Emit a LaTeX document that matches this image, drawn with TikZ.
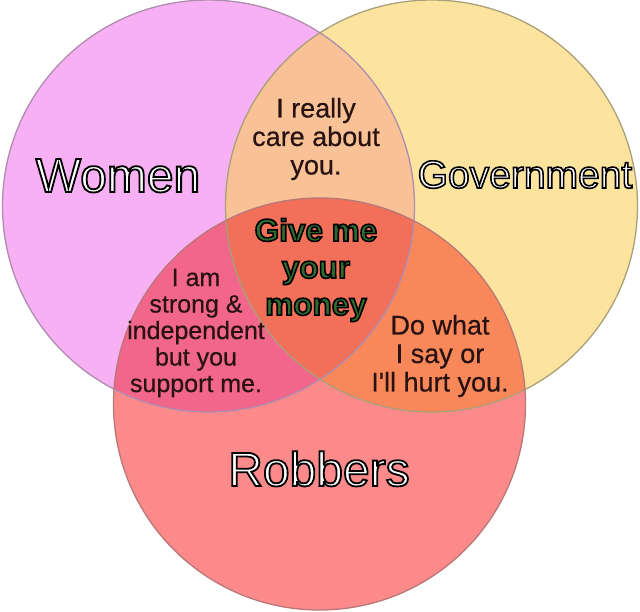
\documentclass[tikz,border=0pt]{standalone}
\usepackage{fontspec}
\setmainfont{Liberation Sans}
\newfontfamily\heavysans[FakeBold=0.5]{Liberation Sans}
\usepackage[dvipsnames]{xcolor}

\definecolor{womenpink}{RGB}{247,176,244}
\definecolor{govyellow}{RGB}{252,228,158}
\definecolor{robred}{RGB}{252,138,138}
\definecolor{wgpeach}{RGB}{248,194,150}
\definecolor{wrpink}{RGB}{242,102,140}
\definecolor{grorange}{RGB}{248,136,90}
\definecolor{allred}{RGB}{242,112,90}
\definecolor{womenline}{RGB}{175,140,175}
\definecolor{govline}{RGB}{170,160,120}
\definecolor{robline}{RGB}{185,120,120}
\definecolor{textdark}{RGB}{40,18,18}
\definecolor{moneygreen}{RGB}{48,108,48}

% fill with the text colour, stroke in black
\newcommand{\outlined}[2]{{\special{pdf:literal direct 2 Tr 0 0 0 RG #1 w}#2\special{pdf:literal direct 0 Tr}}}

\begin{document}
\begin{tikzpicture}[x=1pt,y=-1pt,
    ring/.style={line width=1.3pt},
    set label/.style={anchor=base,text=white},
    small text/.style={align=center,text=textdark,font=\heavysans\fontsize{27}{28.5}\selectfont},
    money text/.style={align=center,text=moneygreen,font=\bfseries\fontsize{31.5}{37}\selectfont}]

                    \useasboundingbox (0,0) rectangle (640,611);

                    \coordinate (wc) at (208.5,206);
                    \coordinate (gc) at (431.5,206);
                    \coordinate (rc) at (319.5,404);

                    % base fills
                    \fill[womenpink] (wc) circle (206);
                    \fill[govyellow] (gc) circle (206);
                    \fill[robred] (rc) circle (206);

                    % pairwise overlaps
                    \begin{scope}
                        \clip (wc) circle (206);
                        \fill[wgpeach] (gc) circle (206);
                        \fill[wrpink] (rc) circle (206);
                    \end{scope}
                    \begin{scope}
                        \clip (gc) circle (206);
                        \fill[grorange] (rc) circle (206);
                    \end{scope}

                    % middle
                    \begin{scope}
                        \clip (wc) circle (206);
                        \clip (gc) circle (206);
                        \fill[allred] (rc) circle (206);
                    \end{scope}

                    \draw[ring,womenline] (wc) circle (206);
                    \draw[ring,govline] (gc) circle (206);
                    \draw[ring,robline] (rc) circle (206);

                    \node (women) [set label,font=\fontsize{48}{50}\selectfont] at (118,192) {\outlined{1.8}{Women}};
                    \node (gov) [set label,font=\fontsize{39}{42}\selectfont] at (525,188) {\outlined{1.6}{Government}};
                    \node (rob) [set label,font=\fontsize{48}{50}\selectfont] at (319,486) {\outlined{1.8}{Robbers}};

                    \node (care) [small text] at (316,139) {I really\\care about\\you.};
                    \node (strong) [small text,font=\heavysans\fontsize{25}{26.5}\selectfont] at (196,333) {I am\\strong \&\\independent\\but you\\support me.};
                    \node (hurt) [small text] at (440,356) {Do what\\I say or\\I'll hurt you.};

                    \node (money) [money text] at (316,270)
                        {\outlined{1.6}{Give me}\\\outlined{1.6}{your}\\\outlined{1.6}{money}};
\end{tikzpicture}
\end{document}
